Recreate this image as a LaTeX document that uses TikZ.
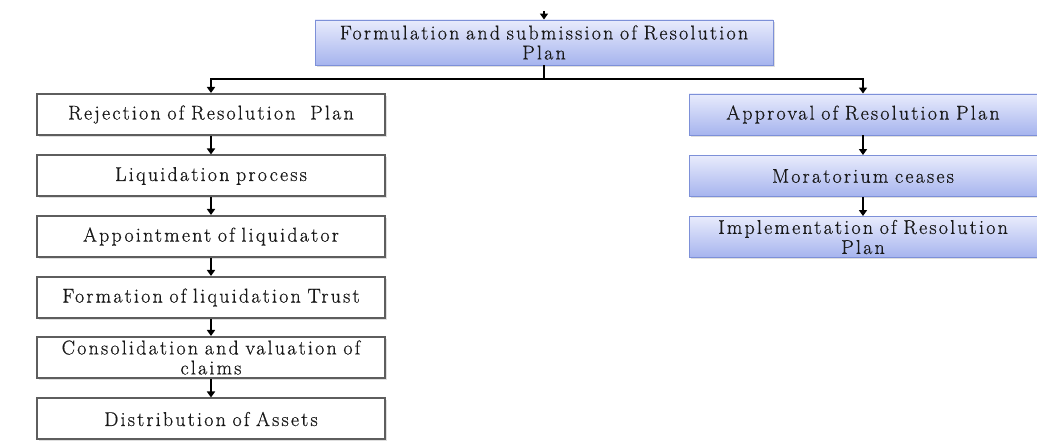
\documentclass[tikz,border=0pt]{standalone}
\usepackage{fontspec}
\setmainfont{Latin Modern Roman}[LetterSpace=11, WordSpace=2, FakeBold=0.6]
\usetikzlibrary{arrows.meta,shadows}
\definecolor{boxline}{HTML}{5E5E5E}
\definecolor{bluetop}{HTML}{E8EBFC}
\definecolor{bluebot}{HTML}{A6B4EE}
\definecolor{blueline}{HTML}{7D90D8}
\tikzset{
  x=1pt, y=1pt,
  txt/.style={font=\fontsize{20}{20}\selectfont, align=center, inner sep=0pt, text=black!90},
  greybox/.style={txt, draw=boxline, line width=2pt, fill=white,
    minimum width=348pt, minimum height=41pt, text width=340pt,
    drop shadow={opacity=0.25, shadow xshift=1.5pt, shadow yshift=-2pt}},
  bluebox/.style={txt, draw=blueline, line width=0.9pt, top color=bluetop, bottom color=bluebot,
    minimum height=41pt, text width=340pt,
    drop shadow={opacity=0.25, shadow xshift=1.5pt, shadow yshift=-2pt}},
  arr/.style={draw=black, line width=2pt, -{Triangle[length=6pt,width=8pt]}},
  link/.style={draw=black, line width=2pt},
}
\begin{document}
\begin{tikzpicture}
\useasboundingbox (0,0) rectangle (1037,-446);
% top box
\node[bluebox, minimum width=458pt, minimum height=45pt, text width=450pt] (top) at (544,-42.5)
  {Formulation and submission of Resolution\\Plan};
% left column
\node[greybox] (rej)  at (211,-114.5) {Rejection of Resolution\hspace{0.4em} Plan};
\node[greybox] (liq)  at (211,-176)   {Liquidation process};
\node[greybox] (app)  at (211,-236.5) {Appointment of liquidator};
\node[greybox] (form) at (211,-297.5) {Formation of liquidation Trust};
\node[greybox] (cons) at (211,-357.5) {Consolidation and valuation of\\claims};
\node[greybox] (dist) at (211,-419)   {Distribution of Assets};
% right column
\node[bluebox, minimum width=348pt] (appr) at (863,-114.5) {Approval of Resolution Plan};
\node[bluebox, minimum width=348pt] (mor)  at (863,-176)   {Moratorium ceases};
\node[bluebox, minimum width=348pt] (impl) at (863,-237)   {Implementation of Resolution\\Plan};
% connectors
\coordinate (src) at (544,-11);
\coordinate (jn) at (544,-79);
\draw[arr] (src) -- (top.north);
\draw[link] (top.south) -- (jn);
\draw[arr] (jn) -| (rej.north);
\draw[arr] (jn) -| (appr.north);
\draw[arr] (rej.south) -- (liq.north);
\draw[arr] (liq.south) -- (app.north);
\draw[arr] (app.south) -- (form.north);
\draw[arr] (form.south) -- (cons.north);
\draw[arr] (cons.south) -- (dist.north);
\draw[arr] (appr.south) -- (mor.north);
\draw[arr] (mor.south) -- (impl.north);
\end{tikzpicture}
\end{document}
